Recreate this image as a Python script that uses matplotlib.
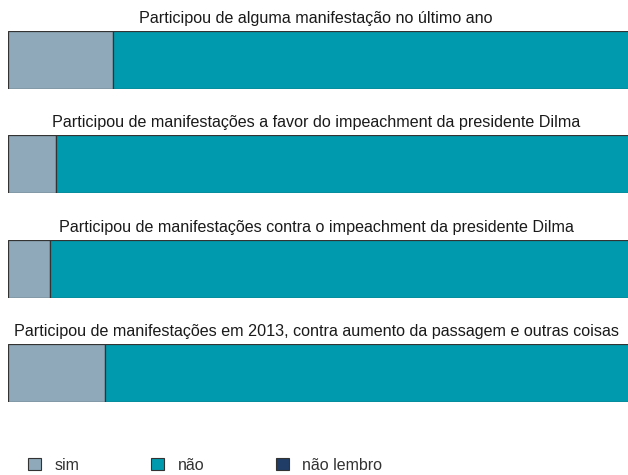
import matplotlib.pyplot as plt
from matplotlib.patches import Patch

plt.rcParams['font.family'] = ['Liberation Sans', 'DejaVu Sans']

perguntas = [
    "Participou de alguma manifestação no último ano",
    "Participou de manifestações a favor do impeachment da presidente Dilma",
    "Participou de manifestações contra o impeachment da presidente Dilma",
    "Participou de manifestações em 2013, contra aumento da passagem e outras coisas",
]
sim = [0.169, 0.077, 0.068, 0.156]
nao = [0.831, 0.923, 0.932, 0.844]
nao_lembro = [0.0, 0.0, 0.0, 0.0]

respostas = ["sim", "não", "não lembro"]
cores = ["#8fa9ba", "#009aae", "#1f3d66"]

W, H = 628, 475
fig = plt.figure(figsize=(W / 100, H / 100), dpi=100)

tops = [31, 135, 240, 344]
bar_h = 58
for i, q in enumerate(perguntas):
    ax = fig.add_axes([8 / W, 1 - (tops[i] + bar_h) / H, 622 / W, bar_h / H])
    left = 0
    for vals, cor in zip([sim, nao, nao_lembro], cores):
        if vals[i] > 0:
            ax.barh(0, vals[i], left=left, height=1, color=cor,
                    edgecolor="#333333", linewidth=0.9)
        left += vals[i]
    ax.set_xlim(0, 1)
    ax.set_ylim(-0.5, 0.5)
    ax.axis("off")
    fig.text(316 / W, 1 - (tops[i] - 8) / H, q, ha="center", va="baseline",
             fontsize=11.6, color="#1a1a1a")

handles = [Patch(facecolor=c, edgecolor="#333333", linewidth=0.8) for c in cores]
fig.legend(handles, respostas, loc="center left", bbox_to_anchor=(28 / W, 1 - 465 / H),
           ncol=3, frameon=False, fontsize=11.5, handlelength=0.8, handleheight=0.8,
           handletextpad=0.85, columnspacing=4.5, borderpad=0, borderaxespad=0,
           labelcolor="#333333")

fig.savefig("out.png", dpi=100)
